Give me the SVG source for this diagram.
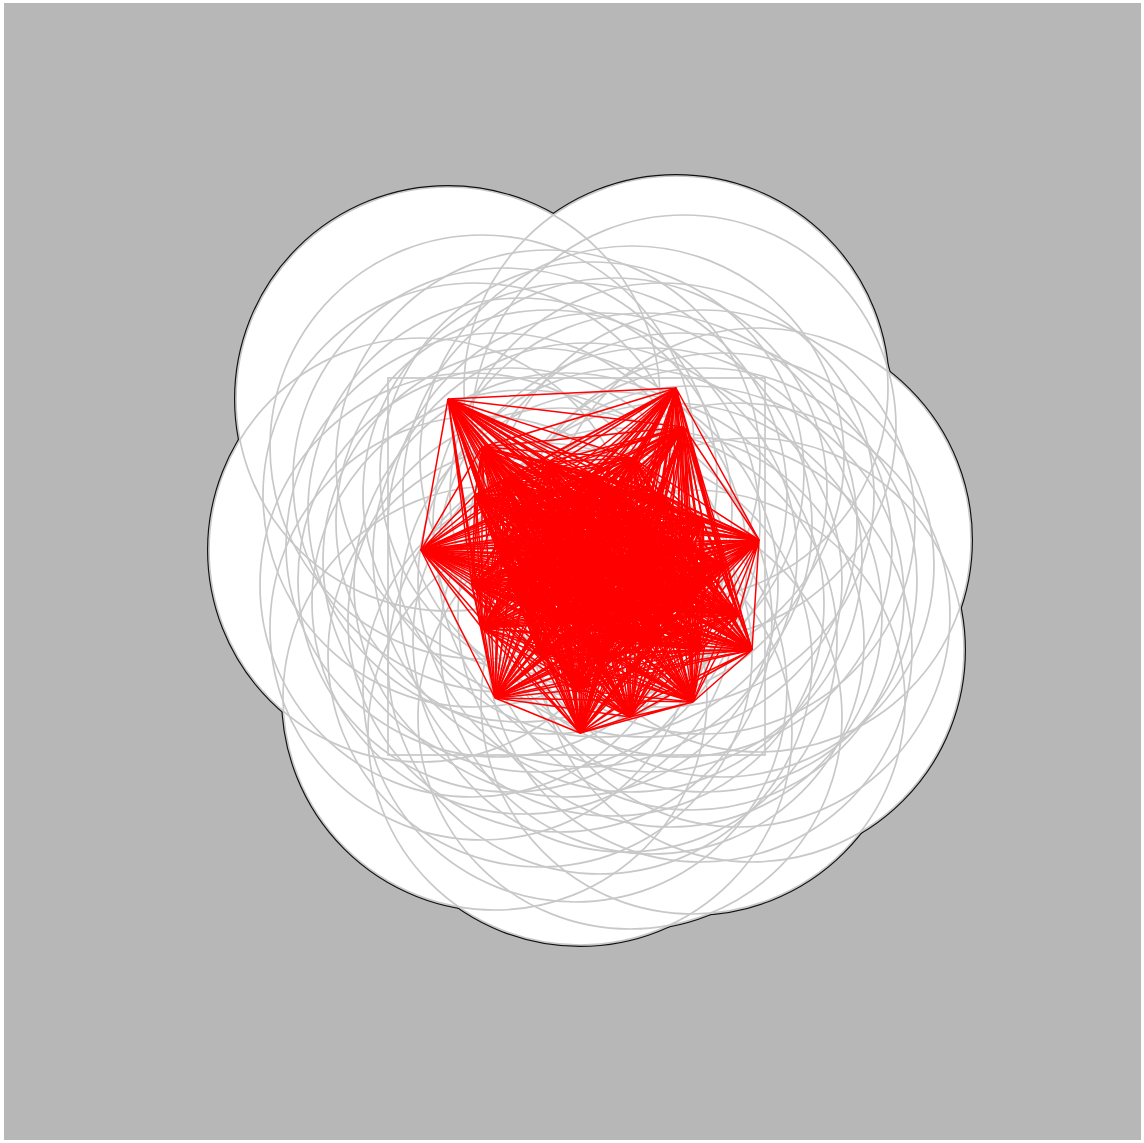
<svg xmlns="http://www.w3.org/2000/svg" xmlns:xlink="http://www.w3.org/1999/xlink" width="1144" height="1143" viewBox="0 0 1144 1143">
<style>
.ol{fill:#fff;stroke:#111;stroke-width:4}
.fl{fill:#fff;stroke:none}
.gc{fill:none;stroke:#c8c8c8;stroke-width:1.7}
.ed{fill:none;stroke:#ff0000;stroke-width:1.5;stroke-linejoin:bevel}
</style>
<defs>
<g id="pts">
<circle cx="448" cy="399" r="212"/><circle cx="482" cy="447" r="212"/><circle cx="676" cy="388" r="212"/><circle cx="684" cy="427" r="212"/><circle cx="759" cy="540" r="212"/><circle cx="752" cy="650" r="212"/><circle cx="693" cy="702" r="212"/><circle cx="630" cy="717" r="212"/><circle cx="580" cy="733" r="212"/><circle cx="495" cy="698" r="212"/><circle cx="421" cy="550" r="212"/><circle cx="505" cy="480" r="212"/><circle cx="548" cy="462" r="212"/><circle cx="592" cy="474" r="212"/><circle cx="632" cy="458" r="212"/><circle cx="662" cy="495" r="212"/><circle cx="703" cy="522" r="212"/><circle cx="722" cy="565" r="212"/><circle cx="692" cy="598" r="212"/><circle cx="738" cy="615" r="212"/><circle cx="650" cy="560" r="212"/><circle cx="600" cy="525" r="212"/><circle cx="548" cy="522" r="212"/><circle cx="498" cy="545" r="212"/><circle cx="472" cy="585" r="212"/><circle cx="482" cy="628" r="212"/><circle cx="524" cy="602" r="212"/><circle cx="566" cy="585" r="212"/><circle cx="612" cy="604" r="212"/><circle cx="652" cy="642" r="212"/><circle cx="600" cy="662" r="212"/><circle cx="540" cy="655" r="212"/><circle cx="700" cy="650" r="212"/><circle cx="475" cy="495" r="212"/>
<circle cx="520" cy="510" r="212"/><circle cx="575" cy="495" r="212"/><circle cx="615" cy="490" r="212"/><circle cx="645" cy="525" r="212"/><circle cx="680" cy="545" r="212"/><circle cx="705" cy="580" r="212"/><circle cx="670" cy="615" r="212"/><circle cx="630" cy="580" r="212"/><circle cx="585" cy="555" r="212"/><circle cx="535" cy="560" r="212"/><circle cx="510" cy="580" r="212"/><circle cx="560" cy="620" r="212"/><circle cx="625" cy="640" r="212"/><circle cx="575" cy="690" r="212"/>
</g>
</defs>
<rect x="0" y="0" width="1144" height="1143" fill="#ffffff"/>
<rect x="4" y="3" width="1137" height="1137" fill="#b7b7b7"/>
<g id="union-outline" class="ol"><use xlink:href="#pts" href="#pts"/></g>
<g id="union-fill" class="fl"><use xlink:href="#pts" href="#pts"/></g>
<g id="nodes" class="gc"><use xlink:href="#pts" href="#pts"/></g>
<rect id="bounds" x="388" y="378" width="377" height="377" class="gc"/>
<g id="connectors" class="ed">
<path d="M448 399 482 447 448 399 676 388 448 399 684 427 448 399 759 540 448 399 752 650 448 399 693 702 448 399 630 717 448 399 580 733 448 399 495 698 448 399 421 550 448 399 505 480 448 399 548 462 448 399 592 474 448 399 632 458 448 399 662 495 448 399 703 522 448 399 722 565 448 399 692 598 448 399 738 615 448 399 650 560 448 399 600 525 448 399 548 522 448 399 498 545 448 399 472 585 448 399 482 628 448 399 524 602 448 399 566 585 448 399 612 604 448 399 652 642 448 399 600 662 448 399 540 655 448 399 700 650 448 399 475 495"/>
<path d="M482 447 676 388 482 447 684 427 482 447 759 540 482 447 752 650 482 447 693 702 482 447 630 717 482 447 580 733 482 447 495 698 482 447 421 550 482 447 505 480 482 447 548 462 482 447 592 474 482 447 632 458 482 447 662 495 482 447 703 522 482 447 722 565 482 447 692 598 482 447 738 615 482 447 650 560 482 447 600 525 482 447 548 522 482 447 498 545 482 447 472 585 482 447 482 628 482 447 524 602 482 447 566 585 482 447 612 604 482 447 652 642 482 447 600 662 482 447 540 655 482 447 700 650 482 447 475 495"/>
<path d="M676 388 684 427 676 388 759 540 676 388 752 650 676 388 693 702 676 388 630 717 676 388 580 733 676 388 495 698 676 388 421 550 676 388 505 480 676 388 548 462 676 388 592 474 676 388 632 458 676 388 662 495 676 388 703 522 676 388 722 565 676 388 692 598 676 388 738 615 676 388 650 560 676 388 600 525 676 388 548 522 676 388 498 545 676 388 472 585 676 388 482 628 676 388 524 602 676 388 566 585 676 388 612 604 676 388 652 642 676 388 600 662 676 388 540 655 676 388 700 650 676 388 475 495"/>
<path d="M684 427 759 540 684 427 752 650 684 427 693 702 684 427 630 717 684 427 580 733 684 427 495 698 684 427 421 550 684 427 505 480 684 427 548 462 684 427 592 474 684 427 632 458 684 427 662 495 684 427 703 522 684 427 722 565 684 427 692 598 684 427 738 615 684 427 650 560 684 427 600 525 684 427 548 522 684 427 498 545 684 427 472 585 684 427 482 628 684 427 524 602 684 427 566 585 684 427 612 604 684 427 652 642 684 427 600 662 684 427 540 655 684 427 700 650 684 427 475 495"/>
<path d="M759 540 752 650 759 540 693 702 759 540 630 717 759 540 580 733 759 540 495 698 759 540 421 550 759 540 505 480 759 540 548 462 759 540 592 474 759 540 632 458 759 540 662 495 759 540 703 522 759 540 722 565 759 540 692 598 759 540 738 615 759 540 650 560 759 540 600 525 759 540 548 522 759 540 498 545 759 540 472 585 759 540 482 628 759 540 524 602 759 540 566 585 759 540 612 604 759 540 652 642 759 540 600 662 759 540 540 655 759 540 700 650 759 540 475 495"/>
<path d="M752 650 693 702 752 650 630 717 752 650 580 733 752 650 495 698 752 650 421 550 752 650 505 480 752 650 548 462 752 650 592 474 752 650 632 458 752 650 662 495 752 650 703 522 752 650 722 565 752 650 692 598 752 650 738 615 752 650 650 560 752 650 600 525 752 650 548 522 752 650 498 545 752 650 472 585 752 650 482 628 752 650 524 602 752 650 566 585 752 650 612 604 752 650 652 642 752 650 600 662 752 650 540 655 752 650 700 650 752 650 475 495"/>
<path d="M693 702 630 717 693 702 580 733 693 702 495 698 693 702 421 550 693 702 505 480 693 702 548 462 693 702 592 474 693 702 632 458 693 702 662 495 693 702 703 522 693 702 722 565 693 702 692 598 693 702 738 615 693 702 650 560 693 702 600 525 693 702 548 522 693 702 498 545 693 702 472 585 693 702 482 628 693 702 524 602 693 702 566 585 693 702 612 604 693 702 652 642 693 702 600 662 693 702 540 655 693 702 700 650 693 702 475 495"/>
<path d="M630 717 580 733 630 717 495 698 630 717 421 550 630 717 505 480 630 717 548 462 630 717 592 474 630 717 632 458 630 717 662 495 630 717 703 522 630 717 722 565 630 717 692 598 630 717 738 615 630 717 650 560 630 717 600 525 630 717 548 522 630 717 498 545 630 717 472 585 630 717 482 628 630 717 524 602 630 717 566 585 630 717 612 604 630 717 652 642 630 717 600 662 630 717 540 655 630 717 700 650 630 717 475 495"/>
<path d="M580 733 495 698 580 733 421 550 580 733 505 480 580 733 548 462 580 733 592 474 580 733 632 458 580 733 662 495 580 733 703 522 580 733 722 565 580 733 692 598 580 733 738 615 580 733 650 560 580 733 600 525 580 733 548 522 580 733 498 545 580 733 472 585 580 733 482 628 580 733 524 602 580 733 566 585 580 733 612 604 580 733 652 642 580 733 600 662 580 733 540 655 580 733 700 650 580 733 475 495"/>
<path d="M495 698 421 550 495 698 505 480 495 698 548 462 495 698 592 474 495 698 632 458 495 698 662 495 495 698 703 522 495 698 722 565 495 698 692 598 495 698 738 615 495 698 650 560 495 698 600 525 495 698 548 522 495 698 498 545 495 698 472 585 495 698 482 628 495 698 524 602 495 698 566 585 495 698 612 604 495 698 652 642 495 698 600 662 495 698 540 655 495 698 700 650 495 698 475 495"/>
<path d="M421 550 505 480 421 550 548 462 421 550 592 474 421 550 632 458 421 550 662 495 421 550 703 522 421 550 722 565 421 550 692 598 421 550 738 615 421 550 650 560 421 550 600 525 421 550 548 522 421 550 498 545 421 550 472 585 421 550 482 628 421 550 524 602 421 550 566 585 421 550 612 604 421 550 652 642 421 550 600 662 421 550 540 655 421 550 700 650 421 550 475 495"/>
<path d="M505 480 548 462 505 480 592 474 505 480 632 458 505 480 662 495 505 480 703 522 505 480 722 565 505 480 692 598 505 480 738 615 505 480 650 560 505 480 600 525 505 480 548 522 505 480 498 545 505 480 472 585 505 480 482 628 505 480 524 602 505 480 566 585 505 480 612 604 505 480 652 642 505 480 600 662 505 480 540 655 505 480 700 650 505 480 475 495"/>
<path d="M548 462 592 474 548 462 632 458 548 462 662 495 548 462 703 522 548 462 722 565 548 462 692 598 548 462 738 615 548 462 650 560 548 462 600 525 548 462 548 522 548 462 498 545 548 462 472 585 548 462 482 628 548 462 524 602 548 462 566 585 548 462 612 604 548 462 652 642 548 462 600 662 548 462 540 655 548 462 700 650 548 462 475 495"/>
<path d="M592 474 632 458 592 474 662 495 592 474 703 522 592 474 722 565 592 474 692 598 592 474 738 615 592 474 650 560 592 474 600 525 592 474 548 522 592 474 498 545 592 474 472 585 592 474 482 628 592 474 524 602 592 474 566 585 592 474 612 604 592 474 652 642 592 474 600 662 592 474 540 655 592 474 700 650 592 474 475 495"/>
<path d="M632 458 662 495 632 458 703 522 632 458 722 565 632 458 692 598 632 458 738 615 632 458 650 560 632 458 600 525 632 458 548 522 632 458 498 545 632 458 472 585 632 458 482 628 632 458 524 602 632 458 566 585 632 458 612 604 632 458 652 642 632 458 600 662 632 458 540 655 632 458 700 650 632 458 475 495"/>
<path d="M662 495 703 522 662 495 722 565 662 495 692 598 662 495 738 615 662 495 650 560 662 495 600 525 662 495 548 522 662 495 498 545 662 495 472 585 662 495 482 628 662 495 524 602 662 495 566 585 662 495 612 604 662 495 652 642 662 495 600 662 662 495 540 655 662 495 700 650 662 495 475 495"/>
<path d="M703 522 722 565 703 522 692 598 703 522 738 615 703 522 650 560 703 522 600 525 703 522 548 522 703 522 498 545 703 522 472 585 703 522 482 628 703 522 524 602 703 522 566 585 703 522 612 604 703 522 652 642 703 522 600 662 703 522 540 655 703 522 700 650 703 522 475 495"/>
<path d="M722 565 692 598 722 565 738 615 722 565 650 560 722 565 600 525 722 565 548 522 722 565 498 545 722 565 472 585 722 565 482 628 722 565 524 602 722 565 566 585 722 565 612 604 722 565 652 642 722 565 600 662 722 565 540 655 722 565 700 650 722 565 475 495"/>
<path d="M692 598 738 615 692 598 650 560 692 598 600 525 692 598 548 522 692 598 498 545 692 598 472 585 692 598 482 628 692 598 524 602 692 598 566 585 692 598 612 604 692 598 652 642 692 598 600 662 692 598 540 655 692 598 700 650 692 598 475 495"/>
<path d="M738 615 650 560 738 615 600 525 738 615 548 522 738 615 498 545 738 615 472 585 738 615 482 628 738 615 524 602 738 615 566 585 738 615 612 604 738 615 652 642 738 615 600 662 738 615 540 655 738 615 700 650 738 615 475 495"/>
<path d="M650 560 600 525 650 560 548 522 650 560 498 545 650 560 472 585 650 560 482 628 650 560 524 602 650 560 566 585 650 560 612 604 650 560 652 642 650 560 600 662 650 560 540 655 650 560 700 650 650 560 475 495"/>
<path d="M600 525 548 522 600 525 498 545 600 525 472 585 600 525 482 628 600 525 524 602 600 525 566 585 600 525 612 604 600 525 652 642 600 525 600 662 600 525 540 655 600 525 700 650 600 525 475 495"/>
<path d="M548 522 498 545 548 522 472 585 548 522 482 628 548 522 524 602 548 522 566 585 548 522 612 604 548 522 652 642 548 522 600 662 548 522 540 655 548 522 700 650 548 522 475 495"/>
<path d="M498 545 472 585 498 545 482 628 498 545 524 602 498 545 566 585 498 545 612 604 498 545 652 642 498 545 600 662 498 545 540 655 498 545 700 650 498 545 475 495"/>
<path d="M472 585 482 628 472 585 524 602 472 585 566 585 472 585 612 604 472 585 652 642 472 585 600 662 472 585 540 655 472 585 700 650 472 585 475 495"/>
<path d="M482 628 524 602 482 628 566 585 482 628 612 604 482 628 652 642 482 628 600 662 482 628 540 655 482 628 700 650 482 628 475 495"/>
<path d="M524 602 566 585 524 602 612 604 524 602 652 642 524 602 600 662 524 602 540 655 524 602 700 650 524 602 475 495"/>
<path d="M566 585 612 604 566 585 652 642 566 585 600 662 566 585 540 655 566 585 700 650 566 585 475 495"/>
<path d="M612 604 652 642 612 604 600 662 612 604 540 655 612 604 700 650 612 604 475 495"/>
<path d="M652 642 600 662 652 642 540 655 652 642 700 650 652 642 475 495"/>
<path d="M600 662 540 655 600 662 700 650 600 662 475 495"/>
<path d="M540 655 700 650 540 655 475 495"/>
<path d="M700 650 475 495"/>
<path d="M520 510 448 399 520 510 482 447 520 510 676 388 520 510 684 427 520 510 759 540 520 510 752 650 520 510 693 702 520 510 630 717 520 510 580 733 520 510 495 698 520 510 421 550 520 510 505 480 520 510 548 462 520 510 592 474 520 510 632 458 520 510 662 495 520 510 703 522 520 510 722 565 520 510 692 598 520 510 738 615 520 510 650 560 520 510 600 525 520 510 548 522 520 510 498 545 520 510 472 585 520 510 482 628 520 510 524 602 520 510 566 585 520 510 612 604 520 510 652 642 520 510 600 662 520 510 540 655 520 510 700 650 520 510 475 495"/>
<path d="M575 495 448 399 575 495 482 447 575 495 676 388 575 495 684 427 575 495 759 540 575 495 752 650 575 495 693 702 575 495 630 717 575 495 580 733 575 495 495 698 575 495 421 550 575 495 505 480 575 495 548 462 575 495 592 474 575 495 632 458 575 495 662 495 575 495 703 522 575 495 722 565 575 495 692 598 575 495 738 615 575 495 650 560 575 495 600 525 575 495 548 522 575 495 498 545 575 495 472 585 575 495 482 628 575 495 524 602 575 495 566 585 575 495 612 604 575 495 652 642 575 495 600 662 575 495 540 655 575 495 700 650 575 495 475 495 575 495 520 510"/>
<path d="M615 490 448 399 615 490 482 447 615 490 676 388 615 490 684 427 615 490 759 540 615 490 752 650 615 490 693 702 615 490 630 717 615 490 580 733 615 490 495 698 615 490 421 550 615 490 505 480 615 490 548 462 615 490 592 474 615 490 632 458 615 490 662 495 615 490 703 522 615 490 722 565 615 490 692 598 615 490 738 615 615 490 650 560 615 490 600 525 615 490 548 522 615 490 498 545 615 490 472 585 615 490 482 628 615 490 524 602 615 490 566 585 615 490 612 604 615 490 652 642 615 490 600 662 615 490 540 655 615 490 700 650 615 490 475 495 615 490 520 510 615 490 575 495"/>
<path d="M645 525 448 399 645 525 482 447 645 525 676 388 645 525 684 427 645 525 759 540 645 525 752 650 645 525 693 702 645 525 630 717 645 525 580 733 645 525 495 698 645 525 421 550 645 525 505 480 645 525 548 462 645 525 592 474 645 525 632 458 645 525 662 495 645 525 703 522 645 525 722 565 645 525 692 598 645 525 738 615 645 525 650 560 645 525 600 525 645 525 548 522 645 525 498 545 645 525 472 585 645 525 482 628 645 525 524 602 645 525 566 585 645 525 612 604 645 525 652 642 645 525 600 662 645 525 540 655 645 525 700 650 645 525 475 495 645 525 520 510 645 525 575 495 645 525 615 490"/>
<path d="M680 545 448 399 680 545 482 447 680 545 676 388 680 545 684 427 680 545 759 540 680 545 752 650 680 545 693 702 680 545 630 717 680 545 580 733 680 545 495 698 680 545 421 550 680 545 505 480 680 545 548 462 680 545 592 474 680 545 632 458 680 545 662 495 680 545 703 522 680 545 722 565 680 545 692 598 680 545 738 615 680 545 650 560 680 545 600 525 680 545 548 522 680 545 498 545 680 545 472 585 680 545 482 628 680 545 524 602 680 545 566 585 680 545 612 604 680 545 652 642 680 545 600 662 680 545 540 655 680 545 700 650 680 545 475 495 680 545 520 510 680 545 575 495 680 545 615 490 680 545 645 525"/>
<path d="M705 580 448 399 705 580 482 447 705 580 676 388 705 580 684 427 705 580 759 540 705 580 752 650 705 580 693 702 705 580 630 717 705 580 580 733 705 580 495 698 705 580 421 550 705 580 505 480 705 580 548 462 705 580 592 474 705 580 632 458 705 580 662 495 705 580 703 522 705 580 722 565 705 580 692 598 705 580 738 615 705 580 650 560 705 580 600 525 705 580 548 522 705 580 498 545 705 580 472 585 705 580 482 628 705 580 524 602 705 580 566 585 705 580 612 604 705 580 652 642 705 580 600 662 705 580 540 655 705 580 700 650 705 580 475 495 705 580 520 510 705 580 575 495 705 580 615 490 705 580 645 525 705 580 680 545"/>
<path d="M670 615 448 399 670 615 482 447 670 615 676 388 670 615 684 427 670 615 759 540 670 615 752 650 670 615 693 702 670 615 630 717 670 615 580 733 670 615 495 698 670 615 421 550 670 615 505 480 670 615 548 462 670 615 592 474 670 615 632 458 670 615 662 495 670 615 703 522 670 615 722 565 670 615 692 598 670 615 738 615 670 615 650 560 670 615 600 525 670 615 548 522 670 615 498 545 670 615 472 585 670 615 482 628 670 615 524 602 670 615 566 585 670 615 612 604 670 615 652 642 670 615 600 662 670 615 540 655 670 615 700 650 670 615 475 495 670 615 520 510 670 615 575 495 670 615 615 490 670 615 645 525 670 615 680 545 670 615 705 580"/>
<path d="M630 580 448 399 630 580 482 447 630 580 676 388 630 580 684 427 630 580 759 540 630 580 752 650 630 580 693 702 630 580 630 717 630 580 580 733 630 580 495 698 630 580 421 550 630 580 505 480 630 580 548 462 630 580 592 474 630 580 632 458 630 580 662 495 630 580 703 522 630 580 722 565 630 580 692 598 630 580 738 615 630 580 650 560 630 580 600 525 630 580 548 522 630 580 498 545 630 580 472 585 630 580 482 628 630 580 524 602 630 580 566 585 630 580 612 604 630 580 652 642 630 580 600 662 630 580 540 655 630 580 700 650 630 580 475 495 630 580 520 510 630 580 575 495 630 580 615 490 630 580 645 525 630 580 680 545 630 580 705 580 630 580 670 615"/>
<path d="M585 555 448 399 585 555 482 447 585 555 676 388 585 555 684 427 585 555 759 540 585 555 752 650 585 555 693 702 585 555 630 717 585 555 580 733 585 555 495 698 585 555 421 550 585 555 505 480 585 555 548 462 585 555 592 474 585 555 632 458 585 555 662 495 585 555 703 522 585 555 722 565 585 555 692 598 585 555 738 615 585 555 650 560 585 555 600 525 585 555 548 522 585 555 498 545 585 555 472 585 585 555 482 628 585 555 524 602 585 555 566 585 585 555 612 604 585 555 652 642 585 555 600 662 585 555 540 655 585 555 700 650 585 555 475 495 585 555 520 510 585 555 575 495 585 555 615 490 585 555 645 525 585 555 680 545 585 555 705 580 585 555 670 615 585 555 630 580"/>
<path d="M535 560 448 399 535 560 482 447 535 560 676 388 535 560 684 427 535 560 759 540 535 560 752 650 535 560 693 702 535 560 630 717 535 560 580 733 535 560 495 698 535 560 421 550 535 560 505 480 535 560 548 462 535 560 592 474 535 560 632 458 535 560 662 495 535 560 703 522 535 560 722 565 535 560 692 598 535 560 738 615 535 560 650 560 535 560 600 525 535 560 548 522 535 560 498 545 535 560 472 585 535 560 482 628 535 560 524 602 535 560 566 585 535 560 612 604 535 560 652 642 535 560 600 662 535 560 540 655 535 560 700 650 535 560 475 495 535 560 520 510 535 560 575 495 535 560 615 490 535 560 645 525 535 560 680 545 535 560 705 580 535 560 670 615 535 560 630 580 535 560 585 555"/>
<path d="M510 580 448 399 510 580 482 447 510 580 676 388 510 580 684 427 510 580 759 540 510 580 752 650 510 580 693 702 510 580 630 717 510 580 580 733 510 580 495 698 510 580 421 550 510 580 505 480 510 580 548 462 510 580 592 474 510 580 632 458 510 580 662 495 510 580 703 522 510 580 722 565 510 580 692 598 510 580 738 615 510 580 650 560 510 580 600 525 510 580 548 522 510 580 498 545 510 580 472 585 510 580 482 628 510 580 524 602 510 580 566 585 510 580 612 604 510 580 652 642 510 580 600 662 510 580 540 655 510 580 700 650 510 580 475 495 510 580 520 510 510 580 575 495 510 580 615 490 510 580 645 525 510 580 680 545 510 580 705 580 510 580 670 615 510 580 630 580 510 580 585 555 510 580 535 560"/>
<path d="M560 620 448 399 560 620 482 447 560 620 676 388 560 620 684 427 560 620 759 540 560 620 752 650 560 620 693 702 560 620 630 717 560 620 580 733 560 620 495 698 560 620 421 550 560 620 505 480 560 620 548 462 560 620 592 474 560 620 632 458 560 620 662 495 560 620 703 522 560 620 722 565 560 620 692 598 560 620 738 615 560 620 650 560 560 620 600 525 560 620 548 522 560 620 498 545 560 620 472 585 560 620 482 628 560 620 524 602 560 620 566 585 560 620 612 604 560 620 652 642 560 620 600 662 560 620 540 655 560 620 700 650 560 620 475 495 560 620 520 510 560 620 575 495 560 620 615 490 560 620 645 525 560 620 680 545 560 620 705 580 560 620 670 615 560 620 630 580 560 620 585 555 560 620 535 560 560 620 510 580"/>
<path d="M625 640 448 399 625 640 482 447 625 640 676 388 625 640 684 427 625 640 759 540 625 640 752 650 625 640 693 702 625 640 630 717 625 640 580 733 625 640 495 698 625 640 421 550 625 640 505 480 625 640 548 462 625 640 592 474 625 640 632 458 625 640 662 495 625 640 703 522 625 640 722 565 625 640 692 598 625 640 738 615 625 640 650 560 625 640 600 525 625 640 548 522 625 640 498 545 625 640 472 585 625 640 482 628 625 640 524 602 625 640 566 585 625 640 612 604 625 640 652 642 625 640 600 662 625 640 540 655 625 640 700 650 625 640 475 495 625 640 520 510 625 640 575 495 625 640 615 490 625 640 645 525 625 640 680 545 625 640 705 580 625 640 670 615 625 640 630 580 625 640 585 555 625 640 535 560 625 640 510 580 625 640 560 620"/>
<path d="M575 690 448 399 575 690 482 447 575 690 676 388 575 690 684 427 575 690 759 540 575 690 752 650 575 690 693 702 575 690 630 717 575 690 580 733 575 690 495 698 575 690 421 550 575 690 505 480 575 690 548 462 575 690 592 474 575 690 632 458 575 690 662 495 575 690 703 522 575 690 722 565 575 690 692 598 575 690 738 615 575 690 650 560 575 690 600 525 575 690 548 522 575 690 498 545 575 690 472 585 575 690 482 628 575 690 524 602 575 690 566 585 575 690 612 604 575 690 652 642 575 690 600 662 575 690 540 655 575 690 700 650 575 690 475 495 575 690 520 510 575 690 575 495 575 690 615 490 575 690 645 525 575 690 680 545 575 690 705 580 575 690 670 615 575 690 630 580 575 690 585 555 575 690 535 560 575 690 510 580 575 690 560 620 575 690 625 640"/>
</g>
</svg>
